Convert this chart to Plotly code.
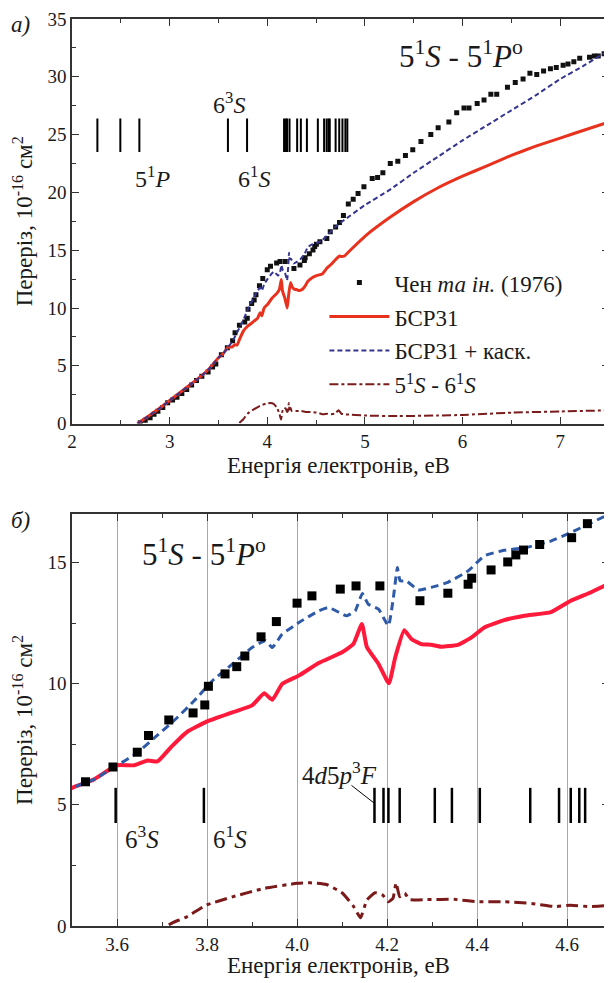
import plotly.graph_objects as go

# ---------------- data ----------------
# БСР31 (red solid)
bsr_e = [2.67, 2.8, 2.9, 3.0, 3.1, 3.2, 3.3, 3.4, 3.5, 3.548, 3.6, 3.638, 3.668, 3.69, 3.72, 3.755,
         3.798, 3.858, 3.9, 3.927, 3.945, 3.967, 4.004, 4.048, 4.10, 4.125, 4.144, 4.155, 4.181,
         4.204, 4.218, 4.238, 4.254, 4.276, 4.298, 4.32, 4.357, 4.387, 4.416, 4.46, 4.505, 4.564,
         4.608, 4.652, 4.693, 4.74, 4.76, 4.79, 4.85, 5.0, 5.25, 5.5, 5.75, 6.0, 6.25, 6.5, 6.75,
         7.0, 7.25, 7.5]
bsr_v = [0.0, 0.75, 1.35, 2.0, 2.65, 3.3, 3.95, 4.7, 5.7, 6.04, 6.63, 6.63, 6.83, 6.79, 7.38, 8.0,
         8.42, 8.82, 9.1, 9.6, 9.33, 9.99, 10.33, 10.85, 11.29, 11.63, 12.46, 11.51, 10.81,
         10.01, 11.08, 12.2, 11.84, 11.63, 11.6, 11.52, 11.6, 11.9, 12.32, 12.62, 12.8, 12.95,
         13.42, 13.76, 14.13, 14.5, 14.45, 14.5, 15.0, 16.2, 17.8, 19.2, 20.4, 21.4, 22.3, 23.2,
         24.0, 24.7, 25.4, 26.1]

# БСР31 + каск. (blue dashed)
casc_e = [2.67, 2.8, 2.9, 3.0, 3.1, 3.2, 3.3, 3.4, 3.5, 3.548, 3.6, 3.642, 3.686, 3.731, 3.772,
          3.812, 3.856, 3.9, 3.93, 3.945, 3.967, 4.004, 4.048, 4.07, 4.11, 4.129, 4.145, 4.158,
          4.181, 4.203, 4.214, 4.223, 4.229, 4.243, 4.269, 4.298, 4.335, 4.38, 4.416, 4.46, 4.505,
          4.564, 4.608, 4.693, 4.77, 5.0, 5.25, 5.5, 5.75, 6.0, 6.25, 6.5, 6.75, 7.0, 7.25, 7.5]
casc_v = [0.0, 0.75, 1.35, 2.0, 2.65, 3.3, 3.95, 4.7, 5.7, 6.04, 6.63, 7.1, 7.81, 8.55, 9.3,
          10.12, 10.8, 11.49, 11.77, 11.49, 12.04, 12.52, 13.0, 13.14, 12.8, 13.0, 13.72, 13.28,
          13.07, 12.39, 13.55, 14.79, 14.24, 14.24, 13.86, 13.97, 14.18, 14.65, 15.27, 15.5, 15.6,
          15.88, 16.23, 16.98, 17.5, 18.9, 20.2, 21.7, 23.1, 24.5, 25.8, 27.1, 28.4, 29.8, 31.0,
          32.3]

# Чен та ін. (1976) (black squares)
chen_e = [2.70, 2.75, 2.80, 2.84, 2.88, 2.93, 2.98, 3.03, 3.075, 3.125, 3.175, 3.225, 3.275, 3.33,
          3.394, 3.44, 3.473, 3.53, 3.591, 3.645, 3.67, 3.715, 3.769, 3.795, 3.803, 3.84, 3.866,
          3.884, 3.92, 3.954, 4.0, 4.033, 4.096, 4.131, 4.184, 4.273, 4.335, 4.38, 4.388, 4.431,
          4.468, 4.486, 4.503, 4.539, 4.61, 4.645, 4.70, 4.74, 4.78, 4.83, 4.88, 4.93, 4.99,
          5.075, 5.13, 5.184, 5.26, 5.337, 5.415, 5.49, 5.574, 5.675, 5.75, 5.86, 5.94, 6.015,
          6.066, 6.15, 6.22, 6.29, 6.35, 6.46, 6.54, 6.62, 6.69, 6.76, 6.83, 6.9, 6.96, 7.03,
          7.08, 7.14, 7.2, 7.3, 7.35, 7.39, 7.45]
chen_v = [0.07, 0.3, 0.5, 0.8, 1.08, 1.4, 1.8, 2.05, 2.29, 2.6, 2.95, 3.35, 3.73, 4.1,
          4.47, 4.9, 5.16, 5.95, 6.56, 7.17, 7.86, 8.5, 8.79, 9.12, 9.89, 10.4, 10.7,
          11.14, 11.93, 12.56, 13.32, 13.62, 13.9, 14.03, 14.03, 13.42, 13.73, 14.1, 14.35, 14.69,
          15.02, 15.31, 15.51, 15.74, 16.02, 16.6, 17.0, 17.4, 18.0, 19.0, 19.4, 19.9, 20.5,
          21.2, 21.3, 21.7, 22.5, 22.7, 23.2, 23.7, 24.4, 25.0, 25.6, 26.1, 26.9, 27.3,
          27.3, 27.7, 28.0, 28.5, 28.5, 29.1, 29.5, 29.8, 30.3, 30.2, 30.5, 30.7, 30.8, 31.0,
          31.1, 31.3, 31.6, 31.7, 31.8, 31.8, 32.0]

# 5¹S - 6¹S (dark red dash-dot)
s6_e = [3.715, 3.724, 3.755, 3.798, 3.858, 3.927, 4.0, 4.03, 4.065, 4.1, 4.125, 4.141, 4.155, 4.173,
        4.19, 4.203, 4.213, 4.22, 4.228, 4.239, 4.25, 4.289, 4.349, 4.401, 4.461, 4.521, 4.573,
        4.608, 4.651, 4.692, 4.73, 4.76, 4.8, 5.0, 5.34, 5.75, 6.0, 6.5, 7.0, 7.5]
s6_v = [0.05, 0.14, 0.38, 0.86, 1.21, 1.55, 1.76, 1.78, 1.71, 1.37, 0.82, 0.34, 1.07, 1.37,
        1.28, 1.0, 1.14, 1.78, 1.21, 1.35, 1.09, 1.09, 1.1, 1.0, 1.0, 0.93, 0.8,
        0.86, 0.8, 0.86, 1.15, 0.85, 0.8, 0.7, 0.65, 0.7, 0.75, 0.95, 1.05, 1.15]

# energy levels (eV)
levels = [2.26, 2.495, 2.69, 3.597, 3.793, 4.172, 4.192, 4.203, 4.228, 4.306, 4.344, 4.406, 4.518,
          4.582, 4.608, 4.627, 4.640, 4.70, 4.737, 4.77, 4.80, 4.82]

FONT = "Liberation Serif"
BLACK = "#1a1a1a"


def bars(lv, lo, hi):
    xs, ys = [], []
    for e in lv:
        xs += [e, e, None]
        ys += [lo, hi, None]
    return xs, ys


fig = go.Figure()

# ---------- top panel ----------
fig.add_trace(go.Scatter(x=chen_e, y=chen_v, mode="markers", name="Чен <i>та ін.</i> (1976)",
                         marker=dict(symbol="square", size=5, color="#111111"),
                         legendgroup="a", xaxis="x", yaxis="y"))
fig.add_trace(go.Scatter(x=bsr_e, y=bsr_v, mode="lines", name="БСР31",
                         line=dict(color="#E8321E", width=3, shape="spline", smoothing=0.4),
                         legendgroup="b", xaxis="x", yaxis="y"))
fig.add_trace(go.Scatter(x=casc_e, y=casc_v, mode="lines", name="БСР31 + каск.",
                         line=dict(color="#35358F", width=2, dash="5px,3px", shape="spline",
                                   smoothing=0.4),
                         legendgroup="c", xaxis="x", yaxis="y"))
fig.add_trace(go.Scatter(x=s6_e, y=s6_v, mode="lines",
                         name="5<sup>1</sup><i>S</i> - 6<sup>1</sup><i>S</i>",
                         line=dict(color="#7A1C1C", width=2, dash="9px,3px,3px,3px",
                                   shape="spline", smoothing=0.4),
                         legendgroup="d", xaxis="x", yaxis="y"))
bx, by = bars(levels, 23.5, 26.4)
fig.add_trace(go.Scatter(x=bx, y=by, mode="lines", line=dict(color="black", width=2),
                         showlegend=False, hoverinfo="skip", xaxis="x", yaxis="y"))

# ---------- bottom panel ----------
bx2, by2 = bars(levels, 4.25, 5.7)
fig.add_trace(go.Scatter(x=bx2, y=by2, mode="lines", line=dict(color="black", width=2.5),
                         showlegend=False, hoverinfo="skip", xaxis="x2", yaxis="y2"))
fig.add_trace(go.Scatter(x=s6_e, y=s6_v, mode="lines", showlegend=False,
                         line=dict(color="#7B1A1A", width=3, dash="12px,5px,4px,5px",
                                   shape="spline", smoothing=0.4),
                         xaxis="x2", yaxis="y2"))
fig.add_trace(go.Scatter(x=bsr_e, y=bsr_v, mode="lines", showlegend=False,
                         line=dict(color="#FF1A3C", width=4, shape="spline", smoothing=0.4),
                         xaxis="x2", yaxis="y2"))
fig.add_trace(go.Scatter(x=casc_e, y=casc_v, mode="lines", showlegend=False,
                         line=dict(color="#2F5AA8", width=3, dash="8px,5px", shape="spline",
                                   smoothing=0.4),
                         xaxis="x2", yaxis="y2"))
fig.add_trace(go.Scatter(x=chen_e, y=chen_v, mode="markers", showlegend=False,
                         marker=dict(symbol="square", size=9, color="black"),
                         xaxis="x2", yaxis="y2"))

tickfont = dict(family=FONT, size=19, color=BLACK)
titlefont = dict(family=FONT, size=23, color=BLACK)
ax_common = dict(showline=True, linecolor="#333333", linewidth=1.5, mirror="ticks",
                 ticks="inside", ticklen=7, tickwidth=1.2, tickcolor="#333333",
                 tickfont=tickfont, zeroline=False, ticklabeloverflow="allow")

ytitle = "Переріз, 10<sup>-16</sup> см<sup>2</sup>"
xtitle = "Енергія електронів, еВ"

# the page body has an 8px margin, so the figure is sized to fill the rest of the window
fig.update_layout(
    width=604, height=975,
    margin=dict(l=64, r=1, t=9, b=57),
    paper_bgcolor="white", plot_bgcolor="white",
    font=dict(family=FONT, color=BLACK),
    xaxis=dict(domain=[0, 1], anchor="y", range=[2, 7.5], dtick=1, showgrid=False,
               minor=dict(dtick=0.5, ticklen=4, ticks="inside", tickcolor="#333333"),
               **ax_common),
    yaxis=dict(domain=[0.5539, 1], anchor="x", range=[0, 35], dtick=5, showgrid=False,
               minor=dict(dtick=2.5, ticklen=4, ticks="inside", tickcolor="#333333"),
               title=dict(text=ytitle, font=titlefont, standoff=8), **ax_common),
    xaxis2=dict(domain=[0, 1], anchor="y2", range=[3.5, 4.693], dtick=0.2, tick0=3.6,
                tickformat=".1f", showgrid=True, gridcolor="#93A9D8", gridwidth=1,
                minor=dict(dtick=0.1, ticklen=4, ticks="inside", tickcolor="#333333",
                           showgrid=False),
                **ax_common),
    yaxis2=dict(domain=[0, 0.4543], anchor="x2", range=[0, 17], dtick=5, showgrid=False,
                minor=dict(dtick=2.5, ticklen=4, ticks="inside", tickcolor="#333333"),
                title=dict(text=ytitle, font=titlefont, standoff=8), **ax_common),
    legend=dict(x=0.470, y=0.733, xanchor="left", yanchor="top",
                font=dict(family=FONT, size=23, color=BLACK), bgcolor="rgba(0,0,0,0)",
                traceorder="grouped", tracegroupgap=1, itemwidth=60),
    showlegend=True,
)

ann = []
def A(text, x, y, size, xref="x", yref="y", yanchor="middle"):
    ann.append(dict(text=text, x=x, y=y, xref=xref, yref=yref, showarrow=False,
                    font=dict(family=FONT, size=size, color=BLACK),
                    xanchor="center", yanchor=yanchor))

# x-axis titles
A(xtitle, 0.497, 0.5072, 23, "paper", "paper")
A(xtitle, 0.497, -0.0435, 23, "paper", "paper")
# panel labels
A("<i>а)</i>", -0.0965, 1.0099, 23, "paper", "paper", "top")
A("<i>б)</i>", -0.0965, 0.4466, 23, "paper", "paper")
# top panel texts
A("5<sup>1</sup><i>S</i> - 5<sup>1</sup><i>P</i><sup>o</sup>", 5.98, 31.9, 31)
A("5<sup>1</sup><i>P</i>", 2.82, 21.3, 24)
A("6<sup>3</sup><i>S</i>", 3.61, 27.7, 24)
A("6<sup>1</sup><i>S</i>", 3.86, 21.3, 24)
# bottom panel texts
A("5<sup>1</sup><i>S</i> - 5<sup>1</sup><i>P</i><sup>o</sup>", 3.794, 15.4, 31, "x2", "y2")
A("6<sup>3</sup><i>S</i>", 3.656, 3.66, 25, "x2", "y2")
A("6<sup>1</sup><i>S</i>", 3.85, 3.66, 25, "x2", "y2")
A("4<i>d</i>5<i>p</i><sup>3</sup><i>F</i>", 4.094, 6.3, 25, "x2", "y2")
fig.update_layout(annotations=ann)
fig.add_shape(type="line", xref="x2", yref="y2", x0=4.121, y0=5.8, x1=4.172, y1=5.06,
              line=dict(color="black", width=1))

fig.write_html("out.html")
